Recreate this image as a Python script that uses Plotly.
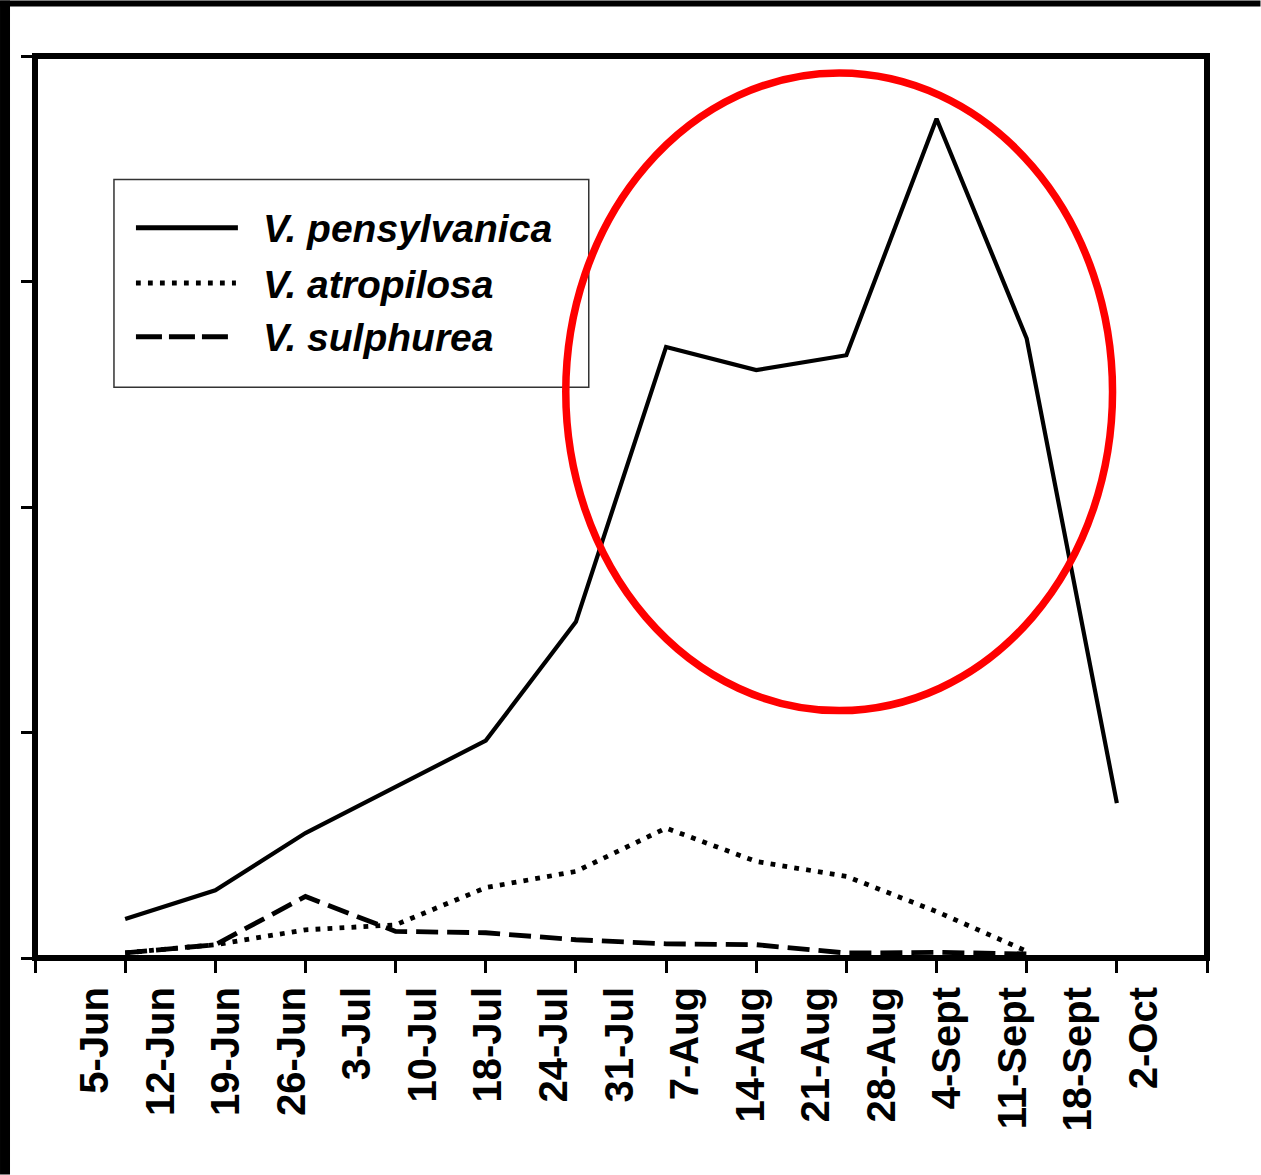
import plotly.graph_objects as go

# ---- data ----
x_pos = [1, 2, 3, 4, 5, 6, 7, 8, 9, 10, 11, 12]
pensylvanica = [1.73, 3.00, 5.54, 7.58, 9.64, 14.91, 27.10, 26.07, 26.73, 37.22, 27.47, 6.87]
x_pos_short = [1, 2, 3, 4, 5, 6, 7, 8, 9, 10, 11]
atropilosa = [0.23, 0.59, 1.25, 1.47, 3.12, 3.84, 5.76, 4.28, 3.62, 2.06, 0.30]
sulphurea = [0.23, 0.59, 2.73, 1.18, 1.12, 0.81, 0.63, 0.59, 0.22, 0.25, 0.18]

date_labels = ["5-Jun", "12-Jun", "19-Jun", "26-Jun", "3-Jul", "10-Jul", "18-Jul",
               "24-Jul", "31-Jul", "7-Aug", "14-Aug", "21-Aug", "28-Aug", "4-Sept",
               "11-Sept", "18-Sept", "2-Oct"]
series_names = ["V. pensylvanica", "V. atropilosa", "V. sulphurea"]

W, H = 1261, 1175
L, R, T, B = 35, 1207.5, 55.5, 958.3
PW, PH = R - L, B - T


def px(xp):
    return (xp - L) / PW


def py(yp):
    return (B - yp) / PH


FONT = "Liberation Sans, Arial, sans-serif"

fig = go.Figure()
fig.add_trace(go.Scatter(x=x_pos, y=pensylvanica, mode="lines", name=series_names[0],
                         line=dict(color="black", width=4.2), showlegend=False))
fig.add_trace(go.Scatter(x=x_pos_short, y=atropilosa, mode="lines", name=series_names[1],
                         line=dict(color="black", width=4.8, dash="4.8px,7.2px"), showlegend=False))
fig.add_trace(go.Scatter(x=x_pos_short, y=sulphurea, mode="lines", name=series_names[2],
                         line=dict(color="black", width=4.8, dash="22px,9px"), showlegend=False))
# invisible helper trace for the label axis
fig.add_trace(go.Scatter(x=list(range(len(date_labels))), y=[0] * len(date_labels),
                         xaxis="x2", mode="markers", marker=dict(opacity=0),
                         hoverinfo="skip", showlegend=False))

shapes = []
# outer black bands (top and left)
shapes.append(dict(type="rect", xref="paper", yref="paper", x0=px(0), x1=px(10), y0=py(H), y1=py(0),
                   fillcolor="black", line=dict(width=0), layer="above"))
shapes.append(dict(type="rect", xref="paper", yref="paper", x0=px(0), x1=px(W), y0=py(6), y1=py(0),
                   fillcolor="black", line=dict(width=0), layer="above"))
# plot frame
shapes.append(dict(type="rect", xref="paper", yref="paper", x0=0, x1=1, y0=0, y1=1,
                   line=dict(color="black", width=6), layer="above"))
# legend box
shapes.append(dict(type="rect", xref="paper", yref="paper", x0=px(114), x1=px(589), y0=py(387), y1=py(179),
                   line=dict(color="#333333", width=1.5), fillcolor="white", layer="above"))
# legend samples
leg_rows = [227.3, 282.7, 336.5]
leg_styles = [dict(width=5, dash="solid", x1=238),
              dict(width=4.8, dash="4.8px,7.2px", x1=236),
              dict(width=5, dash="26px,7px", x1=228)]
for yrow, st in zip(leg_rows, leg_styles):
    shapes.append(dict(type="line", xref="paper", yref="paper", x0=px(136), x1=px(st["x1"]),
                       y0=py(yrow), y1=py(yrow),
                       line=dict(color="black", width=st["width"], dash=st["dash"]), layer="above"))
# red ellipse
shapes.append(dict(type="circle", xref="paper", yref="paper", x0=px(566), x1=px(1113),
                   y0=py(710.7), y1=py(72.5), line=dict(color="#ff0000", width=7.5), layer="above"))

annotations = []
leg_text_rows = [228, 284, 337.5]
for name, yrow in zip(series_names, leg_text_rows):
    annotations.append(dict(xref="paper", yref="paper", x=px(261), y=py(yrow), text=name,
                            showarrow=False, xanchor="left", yanchor="middle",
                            font=dict(family=FONT, size=39, color="black", weight="bold", style="italic")))

fig.update_layout(
    width=W, height=H, autosize=False,
    margin=dict(l=L, r=W - R, t=T, b=H - B, pad=0),
    paper_bgcolor="white", plot_bgcolor="white",
    showlegend=False,
    shapes=shapes, annotations=annotations,
    xaxis=dict(range=[0, 13], tickmode="array", tickvals=list(range(14)), ticks="outside",
               ticklen=14, tickwidth=3, tickcolor="black", showticklabels=False,
               showgrid=False, zeroline=False, showline=False, fixedrange=True),
    xaxis2=dict(overlaying="x", anchor="y", side="bottom", range=[-0.915, 16.96],
                tickmode="array", tickvals=list(range(len(date_labels))), ticktext=date_labels,
                tickangle=-90, ticks="", ticklabelstandoff=20,
                tickfont=dict(family=FONT, size=40, color="black", weight="bold"),
                showgrid=False, zeroline=False, showline=False, fixedrange=True),
    yaxis=dict(range=[0, 40], tickmode="array", tickvals=[0, 10, 20, 30, 40], ticks="outside",
               ticklen=13, tickwidth=3, tickcolor="black", showticklabels=False,
               showgrid=False, zeroline=False, showline=False, fixedrange=True),
)

fig.write_html("out.html")
